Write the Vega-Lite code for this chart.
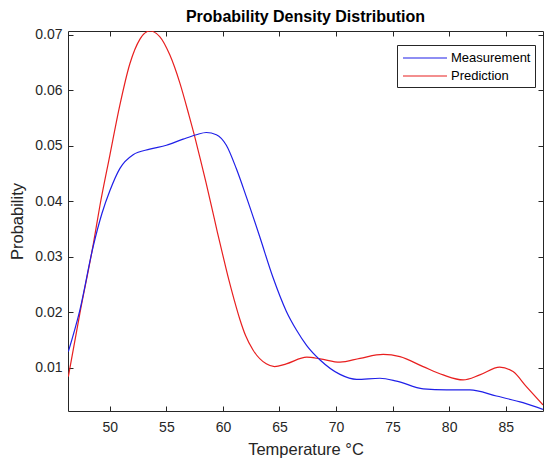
{
  "$schema": "https://vega.github.io/schema/vega-lite/v6.json",
  "width": 475,
  "height": 380,
  "autosize": {"type": "none"},
  "padding": {"left": 68, "top": 31, "right": 1, "bottom": 53},
  "background": "white",
  "config": {
    "font": "Liberation Sans",
    "view": {"stroke": null},
    "axis": {"grid": false, "domainColor": "#262626", "tickColor": "#262626", "labelColor": "#262626", "titleColor": "#262626", "labelFont": "Liberation Sans", "titleFont": "Liberation Sans", "labelFontSize": 14, "titleFontSize": 16.5, "titleFontWeight": "normal", "domainWidth": 1, "tickWidth": 1}
  },
  "title": {"text": "Probability Density Distribution", "fontSize": 16, "fontWeight": "bold", "font": "Liberation Sans", "color": "#000000", "anchor": "middle", "offset": 3},
  "data": {"values": [
    {"t": 46.33, "p": 0.0084, "s": "Prediction"},
    {"t": 47.35, "p": 0.0198, "s": "Prediction"},
    {"t": 48.53, "p": 0.0322, "s": "Prediction"},
    {"t": 49.12, "p": 0.0392, "s": "Prediction"},
    {"t": 50.0, "p": 0.0483, "s": "Prediction"},
    {"t": 50.88, "p": 0.0573, "s": "Prediction"},
    {"t": 51.77, "p": 0.0648, "s": "Prediction"},
    {"t": 52.65, "p": 0.0692, "s": "Prediction"},
    {"t": 53.53, "p": 0.0707, "s": "Prediction"},
    {"t": 54.41, "p": 0.0697, "s": "Prediction"},
    {"t": 55.3, "p": 0.0664, "s": "Prediction"},
    {"t": 56.18, "p": 0.0614, "s": "Prediction"},
    {"t": 57.0, "p": 0.0555, "s": "Prediction"},
    {"t": 57.5, "p": 0.0517, "s": "Prediction"},
    {"t": 58.0, "p": 0.0476, "s": "Prediction"},
    {"t": 58.5, "p": 0.0434, "s": "Prediction"},
    {"t": 59.0, "p": 0.039, "s": "Prediction"},
    {"t": 59.5, "p": 0.0345, "s": "Prediction"},
    {"t": 60.0, "p": 0.0302, "s": "Prediction"},
    {"t": 60.5, "p": 0.026, "s": "Prediction"},
    {"t": 61.0, "p": 0.0222, "s": "Prediction"},
    {"t": 61.5, "p": 0.0187, "s": "Prediction"},
    {"t": 62.0, "p": 0.0158, "s": "Prediction"},
    {"t": 62.66, "p": 0.0132, "s": "Prediction"},
    {"t": 63.83, "p": 0.0107, "s": "Prediction"},
    {"t": 64.56, "p": 0.0102, "s": "Prediction"},
    {"t": 65.6, "p": 0.0107, "s": "Prediction"},
    {"t": 67.41, "p": 0.0119, "s": "Prediction"},
    {"t": 68.59, "p": 0.0116, "s": "Prediction"},
    {"t": 70.35, "p": 0.011, "s": "Prediction"},
    {"t": 72.12, "p": 0.0117, "s": "Prediction"},
    {"t": 74.17, "p": 0.0124, "s": "Prediction"},
    {"t": 75.65, "p": 0.012, "s": "Prediction"},
    {"t": 77.7, "p": 0.0102, "s": "Prediction"},
    {"t": 79.47, "p": 0.0087, "s": "Prediction"},
    {"t": 81.24, "p": 0.0078, "s": "Prediction"},
    {"t": 82.71, "p": 0.0087, "s": "Prediction"},
    {"t": 84.47, "p": 0.0101, "s": "Prediction"},
    {"t": 85.65, "p": 0.0093, "s": "Prediction"},
    {"t": 86.83, "p": 0.0066, "s": "Prediction"},
    {"t": 88.3, "p": 0.0033, "s": "Prediction"},
    {"t": 46.33, "p": 0.0129, "s": "Measurement"},
    {"t": 47.35, "p": 0.0204, "s": "Measurement"},
    {"t": 48.53, "p": 0.0319, "s": "Measurement"},
    {"t": 49.3, "p": 0.0378, "s": "Measurement"},
    {"t": 50.0, "p": 0.0419, "s": "Measurement"},
    {"t": 50.88, "p": 0.0459, "s": "Measurement"},
    {"t": 52.06, "p": 0.0484, "s": "Measurement"},
    {"t": 53.53, "p": 0.0494, "s": "Measurement"},
    {"t": 55.0, "p": 0.0501, "s": "Measurement"},
    {"t": 56.48, "p": 0.0512, "s": "Measurement"},
    {"t": 57.65, "p": 0.052, "s": "Measurement"},
    {"t": 58.53, "p": 0.0524, "s": "Measurement"},
    {"t": 59.42, "p": 0.052, "s": "Measurement"},
    {"t": 60.3, "p": 0.0501, "s": "Measurement"},
    {"t": 61.18, "p": 0.0459, "s": "Measurement"},
    {"t": 62.07, "p": 0.0408, "s": "Measurement"},
    {"t": 63.24, "p": 0.0337, "s": "Measurement"},
    {"t": 64.42, "p": 0.0263, "s": "Measurement"},
    {"t": 65.6, "p": 0.0202, "s": "Measurement"},
    {"t": 66.5, "p": 0.0168, "s": "Measurement"},
    {"t": 67.41, "p": 0.014, "s": "Measurement"},
    {"t": 68.59, "p": 0.0114, "s": "Measurement"},
    {"t": 70.35, "p": 0.0088, "s": "Measurement"},
    {"t": 71.82, "p": 0.0079, "s": "Measurement"},
    {"t": 73.88, "p": 0.0081, "s": "Measurement"},
    {"t": 75.35, "p": 0.0076, "s": "Measurement"},
    {"t": 77.71, "p": 0.0062, "s": "Measurement"},
    {"t": 79.77, "p": 0.006, "s": "Measurement"},
    {"t": 81.83, "p": 0.006, "s": "Measurement"},
    {"t": 84.18, "p": 0.0049, "s": "Measurement"},
    {"t": 86.53, "p": 0.0037, "s": "Measurement"},
    {"t": 88.3, "p": 0.0025, "s": "Measurement"}
  ]},
  "layer": [
    {
      "mark": {"type": "line", "interpolate": "monotone", "strokeWidth": 1.2, "clip": true},
      "encoding": {
        "x": {"field": "t", "type": "quantitative", "scale": {"domain": [46.3, 88.3], "nice": false, "zero": false},
              "axis": {"orient": "bottom", "title": "Temperature °C", "values": [50, 55, 60, 65, 70, 75, 80, 85], "tickSize": -5, "labelPadding": 14, "titlePadding": 7}},
        "y": {"field": "p", "type": "quantitative", "scale": {"domain": [0.0022, 0.0707], "nice": false, "zero": false},
              "axis": {"orient": "left", "title": "Probability", "values": [0.01, 0.02, 0.03, 0.04, 0.05, 0.06, 0.07], "format": ".2f", "tickSize": -5, "labelPadding": 11, "titlePadding": 9}},
        "color": {"field": "s", "type": "nominal",
                  "scale": {"domain": ["Measurement", "Prediction"], "range": ["#1f1fe8", "#e81f1f"]},
                  "legend": {"title": null, "orient": "none", "legendX": 329, "legendY": 14, "symbolType": "M-0.875,0H4.625", "symbolSize": 256, "symbolStrokeWidth": 1.2, "symbolFillColor": "transparent", "labelOffset": 32, "labelFontSize": 13, "labelColor": "#000000", "labelFont": "Liberation Sans", "padding": 4, "rowPadding": 2, "strokeColor": "#262626", "fillColor": "#ffffff"}}
      }
    },
    {
      "mark": {"type": "line", "strokeOpacity": 0, "clip": true},
      "encoding": {
        "x": {"field": "t", "type": "quantitative", "axis": {"orient": "top", "title": null, "labels": false, "values": [50, 55, 60, 65, 70, 75, 80, 85], "tickSize": -5}},
        "y": {"field": "p", "type": "quantitative", "axis": {"orient": "right", "title": null, "labels": false, "values": [0.01, 0.02, 0.03, 0.04, 0.05, 0.06, 0.07], "tickSize": -5}},
        "detail": {"field": "s"}
      }
    }
  ],
  "resolve": {"axis": {"x": "independent", "y": "independent"}}
}
